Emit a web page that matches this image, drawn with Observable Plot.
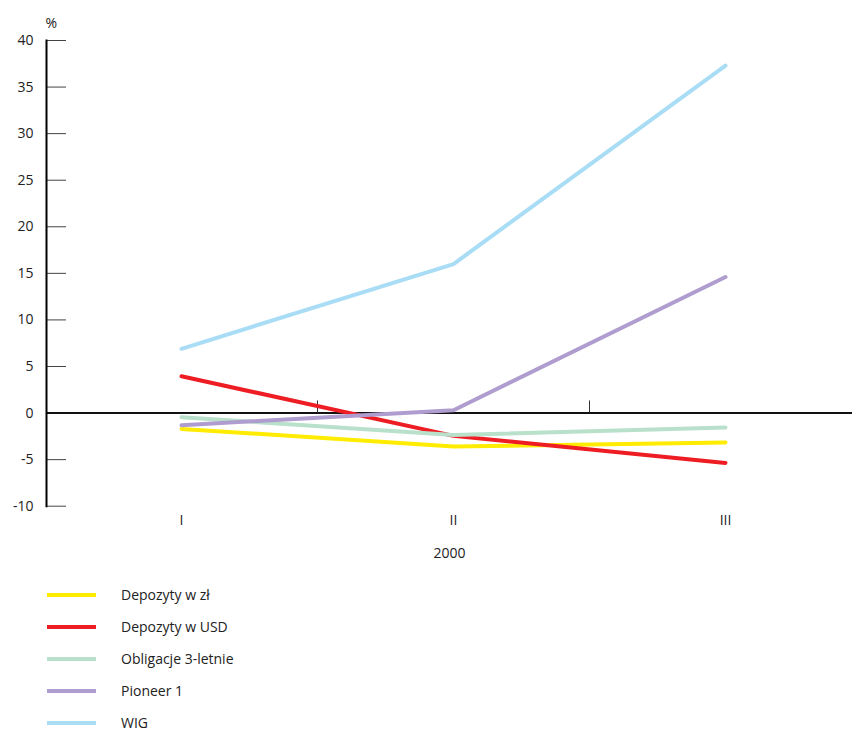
<!DOCTYPE html>
<html>
<head>
<meta charset="utf-8">
<script src="https://cdn.jsdelivr.net/npm/d3@7"></script>
<script src="https://cdn.jsdelivr.net/npm/@observablehq/plot@0.6"></script>
<style>
  html, body { margin: 0; padding: 0; background: #fff; }
  body { font-family: "Open Sans", sans-serif; color: #222; width: 852px; }
  #legend { position: relative; height: 164px; }
  .item { position: absolute; left: 0; height: 20px; font-size: 14px; }
  .sw { position: absolute; left: 47px; width: 49px; height: 4px; }
  .lab { position: absolute; left: 121px; white-space: nowrap; top: -10px; line-height: 20px; }
</style>
</head>
<body>
<div id="chart"></div>
<div id="legend"></div>
<script>
const categories = ["I", "II", "III"];
const seriesNames = ["Depozyty w zł", "Depozyty w USD", "Obligacje 3-letnie", "Pioneer 1", "WIG"];
const seriesColors = ["#FFEC00", "#EE1D23", "#B9E0CB", "#AF9DCF", "#A9DDF6"];
const depozytyZl = [-1.7, -3.6, -3.15];
const depozytyUsd = [3.95, -2.45, -5.35];
const obligacje = [-0.45, -2.35, -1.55];
const pioneer = [-1.3, 0.3, 14.6];
const wig = [6.9, 16.0, 37.3];
const yTicks = [-10, -5, 0, 5, 10, 15, 20, 25, 30, 35, 40];
const xLabel = "2000";
const yUnit = "%";

const allSeries = [depozytyZl, depozytyUsd, obligacje, pioneer, wig];
const data = [];
allSeries.forEach((vals, i) => vals.forEach((v, j) => data.push({series: seriesNames[i], cat: categories[j], value: v})));

const W = 852, H = 570, mL = 46, mR = 0, mT = 40, mB = 64.3;
const xRange = [181, 725];
const step = (xRange[1] - xRange[0]) / (categories.length - 1);

const chart = Plot.plot({
  width: W, height: H,
  marginLeft: mL, marginRight: mR, marginTop: mT, marginBottom: mB,
  style: {fontFamily: "Open Sans, sans-serif", fontSize: "14px", color: "#222", background: "#fff"},
  x: {type: "point", domain: categories, range: xRange, padding: 0, label: null},
  y: {domain: [-10, 40], label: null},
  color: {domain: seriesNames, range: seriesColors},
  marks: [
    Plot.ruleY(yTicks, {y: d => d, stroke: "#444", strokeWidth: 1, insetRight: W - mL - mR - 20}),
    Plot.ruleY([0], {stroke: "#111", strokeWidth: 2}),
    Plot.ruleX(["II", "III"], {x: d => d, y1: 0, y2: 1.3, dx: -step / 2, stroke: "#333", strokeWidth: 1}),
    Plot.frame({anchor: "left", stroke: "#000", strokeWidth: 2}),
    Plot.axisY({ticks: yTicks, tickSize: 0, tickPadding: 13, tickFormat: d => String(d), fill: "#222"}),
    Plot.axisX({tickSize: 0, tickPadding: 9, label: xLabel, labelAnchor: "center", labelOffset: 52, labelArrow: "none", fill: "#222"}),
    Plot.text([yUnit], {frameAnchor: "top-left", dx: -1, dy: -22, fill: "#222"}),
    Plot.line(data, {x: "cat", y: "value", z: "series", stroke: "series", strokeWidth: 4, strokeLinejoin: "round"})
  ]
});
document.getElementById("chart").appendChild(chart);

const legend = document.getElementById("legend");
seriesNames.forEach((name, i) => {
  const item = document.createElement("div");
  item.className = "item";
  item.style.top = (25 + i * 32) + "px";
  const sw = document.createElement("div");
  sw.className = "sw";
  sw.style.background = seriesColors[i];
  sw.style.top = "-2px";
  const lab = document.createElement("div");
  lab.className = "lab";
  lab.textContent = name;
  item.appendChild(sw);
  item.appendChild(lab);
  legend.appendChild(item);
});
</script>
</body>
</html>
